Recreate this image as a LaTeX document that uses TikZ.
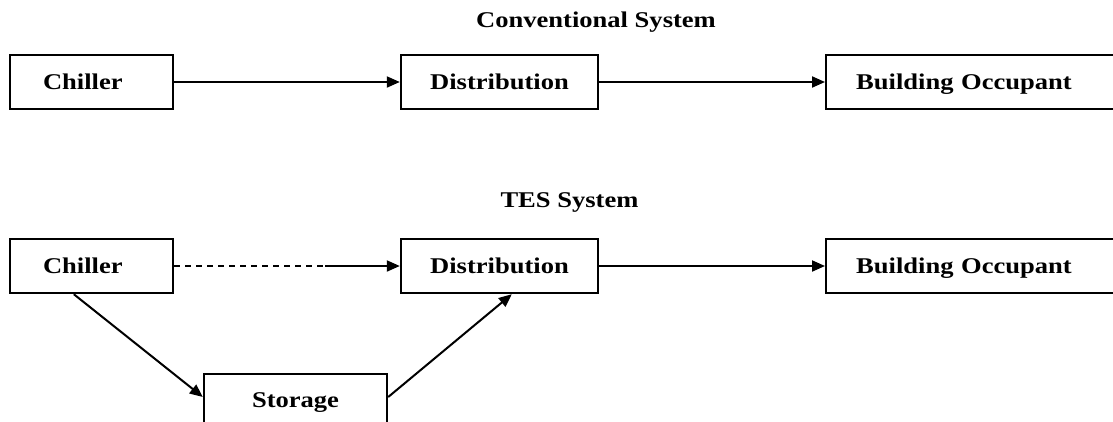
\documentclass[tikz,border=0pt]{standalone}
\usepackage{fontspec}
\setmainfont[FakeStretch=1.18]{Liberation Serif}
\usetikzlibrary{arrows.meta,calc,positioning}
\tikzset{
  box/.style={draw, line width=2.4pt, minimum height=54pt, inner ysep=0pt,
    text height=15.5pt, text depth=0pt, font=\fontsize{22.5}{26}\selectfont\bfseries},
  leftbox/.style={box, align=left, inner xsep=#1},
  titletext/.style={font=\fontsize{22.5}{26}\selectfont\bfseries, inner sep=0pt, anchor=base},
  arr/.style={line width=2pt, -{Triangle[length=13pt,width=11pt]}},
  dashline/.style={line width=2pt, dash pattern=on 6pt off 5pt}
}
\begin{document}
\begin{tikzpicture}[x=1pt,y=-1pt]
\useasboundingbox (0,0) rectangle (1113,421);
\clip (0,0) rectangle (1113,421);
% titles
\node[titletext] (t1) at (596,27) {Conventional System};
\node[titletext] (t2) at (569.5,207) {TES System};
% conventional system
\node[leftbox=33pt, text width=97pt] (c1) at (91.5,82) {Chiller};
\node[box, minimum width=197pt] (d1) at (499.5,82) {Distribution};
\node[leftbox=30pt, text width=260pt, anchor=west] (b1) at (825,82) {Building Occupant};
\draw[arr] (c1.east) -- (d1.west);
\draw[arr] (d1.east) -- (b1.west);
% TES system
\node[leftbox=33pt, text width=97pt] (c2) at (91.5,266) {Chiller};
\node[box, minimum width=197pt] (d2) at (499.5,266) {Distribution};
\node[leftbox=30pt, text width=260pt, anchor=west] (b2) at (825,266) {Building Occupant};
\node[box, minimum width=183pt, anchor=north, text height=33pt, text depth=30pt] (s) at (295.5,373) {Storage};
\coordinate (m) at (325,266);
\draw[dashline] (c2.east) -- (m);
\draw[arr] (m) -- (d2.west);
\draw[arr] (d2.east) -- (b2.west);
\draw[arr] ($(c2.south west)+(65,0)$) -- ($(s.north west)+(0,24)$);
\draw[arr] ($(s.north east)+(0,24)$) -- ($(d2.south west)+(112,0)$);
\end{tikzpicture}
\end{document}
